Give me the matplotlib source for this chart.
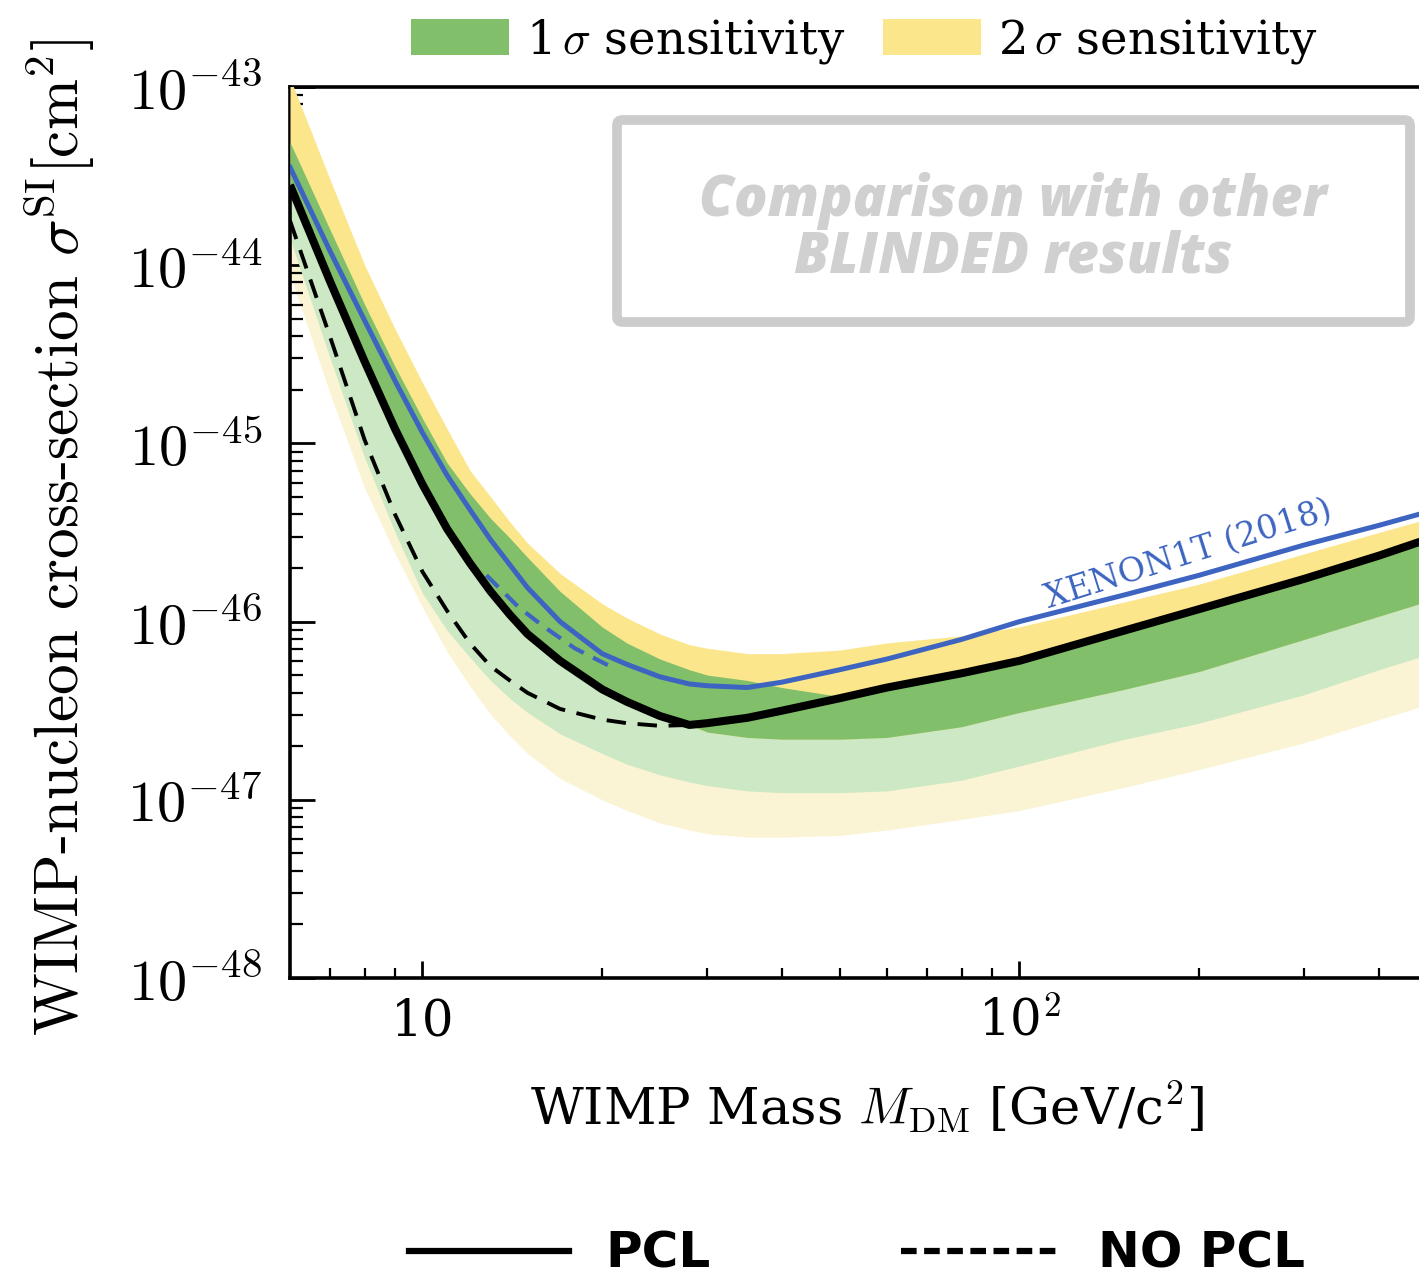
import numpy as np
import matplotlib
matplotlib.use("Agg")
import matplotlib.pyplot as plt
from matplotlib.patches import Patch, FancyBboxPatch
from matplotlib.lines import Line2D
from matplotlib.font_manager import FontProperties

plt.rcParams["mathtext.fontset"] = "cm"

# WIMP mass grid [GeV/c^2]
mass = [6, 7, 8, 9, 10, 11, 12, 13, 14, 15, 17, 20, 22, 25, 28, 30, 35, 40, 50, 60, 80, 100,
        150, 200, 300, 400, 500, 1000]

# log10 of cross-section [cm^2]
pcl_limit = [-43.55, -44.09, -44.54, -44.92, -45.23, -45.48, -45.67, -45.83, -45.96, -46.07, -46.22, -46.38,
             -46.45, -46.53, -46.58, -46.57, -46.54, -46.50, -46.43, -46.37, -46.29, -46.22,
             -46.05, -45.93, -45.76, -45.63, -45.52, -45.22]
nopcl_limit = [-43.75, -44.40, -44.98, -45.40, -45.72, -45.94, -46.12, -46.25, -46.33, -46.40, -46.49, -46.55,
               -46.57, -46.585, -46.58, -46.57, -46.54, -46.50, -46.43, -46.37, -46.29, -46.22,
               -46.05, -45.93, -45.76, -45.63, -45.52, -45.22]
pcl_threshold = [-43.55, -44.09, -44.54, -44.92, -45.23, -45.48, -45.67, -45.83, -45.96, -46.07, -46.22, -46.38,
                 -46.45, -46.53, -46.58, -46.62, -46.65, -46.66, -46.66, -46.65, -46.59, -46.51,
                 -46.38, -46.28, -46.10, -45.97, -45.87, -45.55]
sigma1_hi = [-43.31, -43.80, -44.22, -44.57, -44.86, -45.11, -45.28, -45.42, -45.53, -45.64, -45.83, -46.03,
             -46.12, -46.21, -46.27, -46.30, -46.33, -46.37, -46.42, -46.37, -46.29, -46.22,
             -46.05, -45.93, -45.76, -45.63, -45.52, -45.22]
sigma1_lo = [-43.85, -44.52, -45.08, -45.50, -45.84, -46.05, -46.20, -46.33, -46.43, -46.51, -46.63, -46.74,
             -46.80, -46.86, -46.90, -46.92, -46.95, -46.96, -46.96, -46.95, -46.89, -46.81,
             -46.66, -46.57, -46.41, -46.27, -46.17, -45.85]
sigma2_hi = [-42.95, -43.52, -44.00, -44.36, -44.66, -44.92, -45.15, -45.30, -45.44, -45.56, -45.73, -45.90,
             -45.98, -46.07, -46.13, -46.15, -46.18, -46.18, -46.16, -46.12, -46.08, -46.03,
             -45.89, -45.79, -45.62, -45.50, -45.41, -45.10]
sigma2_lo = [-44.05, -44.72, -45.25, -45.62, -45.92, -46.17, -46.36, -46.52, -46.64, -46.74, -46.88, -47.00,
             -47.06, -47.13, -47.17, -47.19, -47.21, -47.21, -47.20, -47.17, -47.11, -47.06,
             -46.93, -46.83, -46.68, -46.55, -46.45, -46.12]
xenon1t = [-43.45, -43.92, -44.31, -44.65, -44.94, -45.18, -45.37, -45.54, -45.68, -45.81, -46.00, -46.18,
           -46.24, -46.31, -46.35, -46.36, -46.37, -46.34, -46.27, -46.21, -46.10, -46.00,
           -45.85, -45.74, -45.57, -45.46, -45.37, -45.05]

# short dashed blue piece visible under the green band
xenon_dash_mass = [12.8, 14.5, 16, 18, 20.6]
xenon_dash = [-45.74, -45.92, -46.03, -46.15, -46.25]

y_ticks = [1e-48, 1e-47, 1e-46, 1e-45, 1e-44, 1e-43]
y_tick_labels = [r"$10^{-48}$", r"$10^{-47}$", r"$10^{-46}$", r"$10^{-45}$", r"$10^{-44}$", r"$10^{-43}$"]
x_ticks = [10, 100]
x_tick_labels = ["10", r"10$^2$"]

GREEN = "#82bf6a"
YELLOW = "#fce68c"
GREEN_FADED = "#cde8c4"
YELLOW_FADED = "#fbf4d4"
BLUE = "#3d64c0"

m = np.array(mass, dtype=float)
lg = lambda v: np.power(10.0, np.array(v))
thr = lg(pcl_threshold)
s1hi, s1lo = lg(sigma1_hi), lg(sigma1_lo)
s2hi, s2lo = lg(sigma2_hi), lg(sigma2_lo)

fig = plt.figure(figsize=(14.19, 12.83), dpi=100)
ax_w = 597 * np.log10(1000 / 6)  # axes width in pixels (runs past the right edge)
ax = fig.add_axes([290 / 1419, 1 - 978 / 1283, ax_w / 1419, (978 - 87) / 1283])
ax.set_xscale("log")
ax.set_yscale("log")

# faded parts (below the PCL threshold)
ax.fill_between(m, s2lo, s2hi, color=YELLOW_FADED, lw=0, zorder=1)
ax.fill_between(m, s1lo, s1hi, color=GREEN_FADED, lw=0, zorder=2)
# full colour parts (above the PCL threshold)
ax.fill_between(m, np.maximum(thr, s2lo), s2hi, where=s2hi > thr, interpolate=True,
                color=YELLOW, lw=0, zorder=3)
ax.fill_between(m, np.maximum(thr, s1lo), s1hi, where=s1hi > thr, interpolate=True,
                color=GREEN, lw=0, zorder=4)

ax.plot(xenon_dash_mass, lg(xenon_dash), color=BLUE, lw=3, ls=(0, (4, 2.5)), zorder=5)
ax.plot(m, lg(xenon1t), color=BLUE, lw=3.6, zorder=6)
ax.plot(m, lg(nopcl_limit), color="black", lw=2.8, ls=(0, (5, 3)), zorder=7)
ax.plot(m, lg(pcl_limit), color="black", lw=5.8, zorder=8, solid_capstyle="butt")

ax.text(192, 10 ** -45.625, "XENON1T (2018)", color=BLUE, fontsize=24, family="DejaVu Serif",
        rotation=17.5, ha="center", va="center", rotation_mode="anchor", zorder=9)

ax.set_xlim(6, 1000)
ax.set_ylim(1e-48, 1e-43)
ax.set_yticks(y_ticks)
ax.set_yticklabels(y_tick_labels)
ax.set_xticks(x_ticks)
ax.set_xticklabels(x_tick_labels, fontproperties=FontProperties(family="DejaVu Serif", size=36))
for s in ax.spines.values():
    s.set_linewidth(2.6)
ax.tick_params(axis="y", which="major", direction="in", length=18, width=2, labelsize=42, pad=20)
ax.tick_params(axis="y", which="minor", direction="in", length=9, width=1.6)
ax.tick_params(axis="x", which="major", direction="in", length=12, width=2, pad=14)
ax.tick_params(axis="x", which="minor", direction="in", length=7, width=1.6)
ax.tick_params(top=False, right=False, which="both")

ax.set_xlabel(r"WIMP Mass $M_{\rm DM}$ [GeV/c$^2$]",
              fontproperties=FontProperties(family="DejaVu Serif", size=37))
ax.xaxis.set_label_coords((867 - 290) / ax_w, (978 - 1078) / 891)
ax.set_ylabel(r"$\text{WIMP-nucleon cross-section }\sigma^{\rm SI}[\rm cm^2]$", fontsize=44)
ax.yaxis.set_label_coords((97 - 290) / ax_w, (978 - 538) / 891)

# "blinded" placeholder box
box = FancyBboxPatch((617 / 1419, 1 - 322 / 1283), (1410 - 617) / 1419, (322 - 120) / 1283,
                     boxstyle="round,pad=0,rounding_size=0.004", transform=fig.transFigure,
                     fill=False, edgecolor="#cccccc", lw=7, zorder=20)
fig.patches.append(box)
fig.text(1013 / 1419, 1 - 229 / 1283, "Comparison with other\nBLINDED results", ha="center", va="center",
         color="#d0d0d0", fontsize=40, family=["Open Sans", "DejaVu Sans"], weight="heavy", style="italic",
         linespacing=1.0)

# top legend
top_handles = [Patch(facecolor=GREEN, edgecolor="none", label=r"1$\,\sigma$ sensitivity"),
               Patch(facecolor=YELLOW, edgecolor="none", label=r"2$\,\sigma$ sensitivity")]
fig.legend(handles=top_handles, loc="center", bbox_to_anchor=(864 / 1419, 1 - 41 / 1283), ncol=2,
           frameon=False, prop=FontProperties(family="DejaVu Serif", size=33.5),
           handlelength=2.1, handleheight=0.82, handletextpad=0.36, columnspacing=0.82)

# bottom legend
bottom_handles = [Line2D([], [], color="black", lw=4.5, label="PCL"),
                  Line2D([], [], color="black", lw=4.5, ls=(0, (2.5, 1.2)), label="NO PCL")]
fig.legend(handles=bottom_handles, loc="center", bbox_to_anchor=(857 / 1419, 1 - 1254 / 1283), ncol=2,
           frameon=False, prop=FontProperties(family="DejaVu Sans", weight="bold", size=36),
           handlelength=3.2, handletextpad=0.74, columnspacing=3.8)

fig.savefig("out.png", dpi=100)
